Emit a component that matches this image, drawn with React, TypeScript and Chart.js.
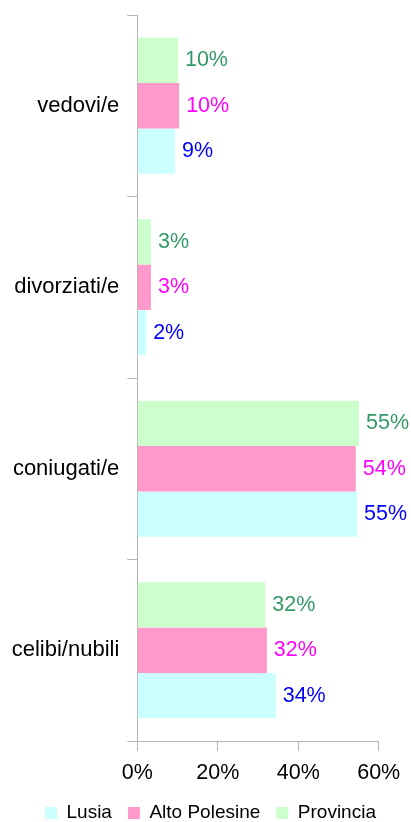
import React, { useEffect, useRef } from "react";
import { Chart, registerables } from "chart.js";

Chart.register(...registerables);

const categories = ["vedovi/e", "divorziati/e", "coniugati/e", "celibi/nubili"];
const provincia = [10.1, 3.4, 55.1, 31.8];
const altoPolesine = [10.4, 3.4, 54.3, 32.2];
const lusia = [9.4, 2.2, 54.6, 34.4];
const xTicks = [0, 20, 40, 60];

const FONT = "'Liberation Sans', Arial, sans-serif";
const CANVAS_H = 833;

const valueLabels = {
  id: "valueLabels",
  afterLayout(chart: any) {
    // let the category labels use the space left of the layout padding (avoid clipping)
    const y = chart.scales.y;
    if (y) {
      y.left = 0;
      y.width = y.right;
    }
  },
  afterDatasetsDraw(chart: any) {
    const ctx = chart.ctx;
    ctx.save();
    ctx.font = `21.5px ${FONT}`;
    ctx.textAlign = "left";
    ctx.textBaseline = "middle";
    chart.data.datasets.forEach((ds: any, i: number) => {
      const meta = chart.getDatasetMeta(i);
      if (meta.hidden) return;
      ctx.fillStyle = ds.labelColor;
      meta.data.forEach((el: any, j: number) => {
        const v = ds.data[j];
        ctx.fillText(Math.round(v) + "%", el.x + 7, el.y);
      });
    });
    ctx.restore();
  },
};

export default function App() {
  const ref = useRef<HTMLCanvasElement>(null);
  useEffect(() => {
    if (!ref.current) return;
    const chart = new Chart(ref.current, {
      type: "bar",
      data: {
        labels: categories,
        datasets: [
          { label: "Provincia", data: provincia, backgroundColor: "#ccffcc", borderWidth: 0, labelColor: "#339966" } as any,
          { label: "Alto Polesine", data: altoPolesine, backgroundColor: "#ff99cc", borderWidth: 0, labelColor: "#ff00ff" } as any,
          { label: "Lusia", data: lusia, backgroundColor: "#ccffff", borderWidth: 0, labelColor: "#0000ff" } as any,
        ],
      },
      options: {
        indexAxis: "y",
        responsive: false,
        maintainAspectRatio: false,
        animation: false,
        layout: { padding: { top: 15, right: 0, left: 29, bottom: 0.5 } },
        datasets: { bar: { categoryPercentage: 0.75, barPercentage: 1 } },
        scales: {
          x: {
            type: "linear",
            min: 0,
            max: 60,
            afterBuildTicks: (scale: any) => {
              scale.ticks = xTicks.map((v) => ({ value: v }));
            },
            afterFit: (scale: any) => {
              scale.height = 46.5;
            },
            ticks: {
              callback: (v: any) => v + "%",
              color: "#000",
              font: { size: 21.5, family: FONT },
              padding: 9,
              maxRotation: 0,
            },
            grid: { drawOnChartArea: false, drawTicks: true, tickLength: 10, color: "#b3b3b3" },
            border: { color: "#b3b3b3" },
          },
          y: {
            type: "category",
            afterFit: (scale: any) => {
              scale.width = 108.3;
              scale.paddingTop = 0;
              scale.paddingBottom = 0;
            },
            ticks: { color: "#000", font: { size: 22, family: FONT }, padding: 8 },
            grid: { offset: true, drawOnChartArea: false, drawTicks: true, tickLength: 10, color: "#b3b3b3" },
            border: { color: "#b3b3b3" },
          },
          spacer: {
            type: "linear",
            position: "right",
            display: true,
            afterFit: (scale: any) => {
              scale.width = 32.3;
              scale.paddingTop = 0;
              scale.paddingBottom = 0;
            },
            ticks: { display: false },
            grid: { display: false },
            border: { display: false },
          },
        },
        plugins: {
          legend: {
            position: "bottom",
            align: "start",
            reverse: true,
            labels: {
              boxWidth: 12,
              boxHeight: 12,
              padding: 16,
              color: "#000",
              font: { size: 19, family: FONT },
            },
          },
          tooltip: { enabled: false },
        },
      },
      plugins: [valueLabels],
    });
    return () => chart.destroy();
  }, []);
  return (
    <div style={{ position: "fixed", left: 0, top: 0, width: 411, height: CANVAS_H, background: "#fff" }}>
      <canvas ref={ref} width={411} height={CANVAS_H} style={{ display: "block" }} />
    </div>
  );
}
